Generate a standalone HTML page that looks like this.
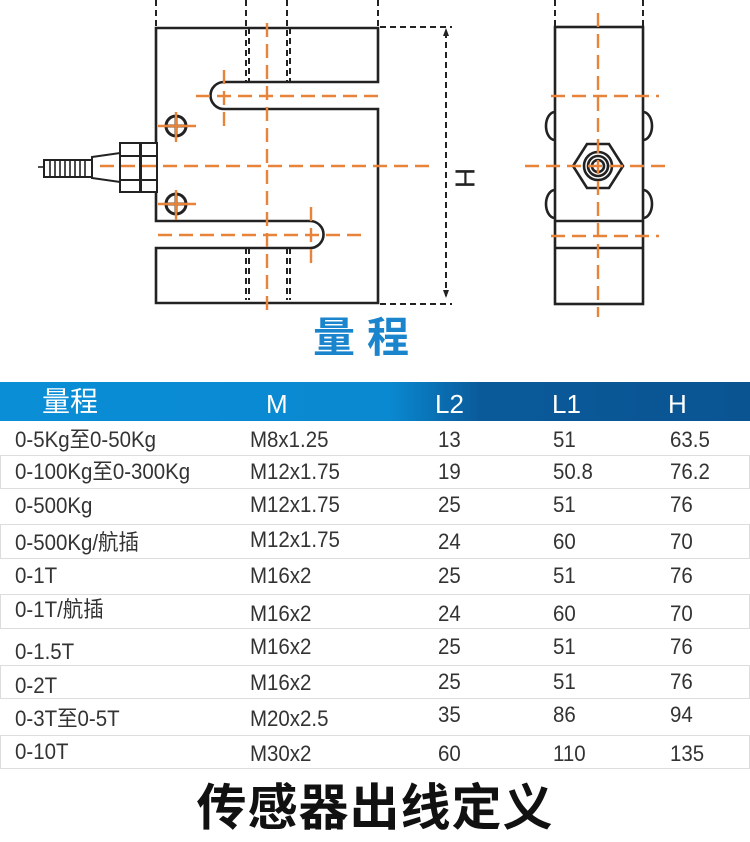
<!DOCTYPE html>
<html><head><meta charset="utf-8"><style>
body{margin:0;width:750px;height:842px;background:#fff;position:relative;overflow:hidden;font-family:"Liberation Sans","Noto Sans CJK SC",sans-serif;}
.t{position:absolute;font-size:22px;color:#333;line-height:22px;white-space:nowrap;transform:scaleX(0.93);transform-origin:0 50%;font-family:"Liberation Sans","Noto Sans CJK SC",sans-serif;}
.h{position:absolute;font-size:26px;color:#fff;line-height:28px;font-family:"Liberation Sans","Noto Sans CJK SC",sans-serif;}
.ln{position:absolute;left:0;width:750px;height:0;border-top:1.5px solid #ddd;}
.bx{position:absolute;left:0;width:748px;border:1.5px solid #ddd;}
</style></head><body>
<svg width="750" height="380" style="position:absolute;left:0;top:0" xmlns="http://www.w3.org/2000/svg">
<g fill="none" stroke="#222" stroke-width="2.6">
<path d="M156 28 H378 V82 H224 A13.5 13.5 0 0 0 224 109 H378 V303 H156 V248 H310 A13.5 13.5 0 0 0 310 221 H156 Z"/>
</g>
<g stroke="#222" stroke-width="2" stroke-dasharray="6,4" fill="none">
<line x1="156" y1="0" x2="156" y2="28"/><line x1="378" y1="0" x2="378" y2="28"/>
<line x1="246" y1="0" x2="246" y2="82"/><line x1="249" y1="28" x2="249" y2="82"/>
<line x1="287" y1="0" x2="287" y2="82"/><line x1="290" y1="28" x2="290" y2="82"/>
<line x1="246" y1="248" x2="246" y2="300"/><line x1="249" y1="248" x2="249" y2="300"/>
<line x1="287" y1="248" x2="287" y2="300"/><line x1="290" y1="248" x2="290" y2="300"/>
<line x1="380" y1="27" x2="452" y2="27"/><line x1="380" y1="304" x2="452" y2="304"/>
<line x1="446" y1="32" x2="446" y2="296"/>
<line x1="555" y1="0" x2="555" y2="27"/><line x1="643" y1="0" x2="643" y2="27"/>
</g>
<path d="M446 28 l-3 8 h6z M446 298 l-3 -8 h6z" fill="#222"/>
<text x="463" y="178" font-size="28" font-family="Liberation Sans" fill="#222" text-anchor="middle" dominant-baseline="middle" transform="rotate(90 463 178)">H</text>
<g stroke="#222" stroke-width="2" fill="#fff">
<rect x="120" y="143" width="20" height="49"/><rect x="141" y="143" width="16" height="49"/>
<line x1="120" y1="156" x2="140" y2="156"/><line x1="120" y1="180" x2="140" y2="180"/>
<line x1="141" y1="156" x2="157" y2="156"/><line x1="141" y1="180" x2="157" y2="180"/>
<path d="M92 157 L120 153 V182 L92 178 Z"/>
<rect x="44" y="160" width="48" height="17"/>
</g>
<g stroke="#222" stroke-width="1.6">
<line x1="50" y1="160" x2="50" y2="177"/><line x1="55" y1="160" x2="55" y2="177"/><line x1="60" y1="160" x2="60" y2="177"/><line x1="65" y1="160" x2="65" y2="177"/><line x1="70" y1="160" x2="70" y2="177"/><line x1="75" y1="160" x2="75" y2="177"/><line x1="80" y1="160" x2="80" y2="177"/><line x1="85" y1="160" x2="85" y2="177"/>
<line x1="38" y1="167" x2="44" y2="167"/>
</g>
<g stroke="#222" stroke-width="3" fill="none">
<circle cx="176" cy="126" r="10"/><circle cx="176" cy="204" r="10"/>
<path d="M166 126h20M176 116v20M166 204h20M176 194v20"/>
</g>
<g stroke="#222" stroke-width="2.6" fill="none">
<rect x="555" y="27" width="88" height="277"/>
<line x1="555" y1="221" x2="643" y2="221"/><line x1="555" y1="248" x2="643" y2="248"/>
<path d="M555 112 a9 14 0 0 0 0 28 M555 190 a9 14 0 0 0 0 28 M643 112 a9 14 0 0 1 0 28 M643 190 a9 14 0 0 1 0 28"/>
<path d="M587 144 H609 L623 166 L609 188 H587 L573 166 Z"/>
<circle cx="598" cy="166" r="14"/><circle cx="598" cy="166" r="10"/><circle cx="598" cy="166" r="6"/>
</g>
<g stroke="#e8843a" stroke-width="2.4" stroke-dasharray="14,7" fill="none">
<line x1="267" y1="23" x2="267" y2="312"/>
<line x1="196" y1="96" x2="378" y2="96"/>
<line x1="100" y1="166" x2="432" y2="166"/>
<line x1="158" y1="235" x2="366" y2="235"/>
<line x1="224" y1="70" x2="224" y2="127"/>
<line x1="311" y1="207" x2="311" y2="263"/>
<line x1="598" y1="13" x2="598" y2="317"/>
<line x1="551" y1="96" x2="659" y2="96"/>
<line x1="525" y1="166" x2="670" y2="166"/>
<line x1="551" y1="236" x2="659" y2="236"/>
</g>
<g stroke="#e8843a" stroke-width="2.4">
<line x1="158" y1="126" x2="196" y2="126"/><line x1="176" y1="112" x2="176" y2="142"/>
<line x1="158" y1="204" x2="196" y2="204"/><line x1="176" y1="190" x2="176" y2="220"/>
</g>
<text x="367" y="352" font-size="42" font-weight="bold" fill="#1a84cc" text-anchor="middle" letter-spacing="12" font-family="Noto Sans CJK SC,sans-serif">量程</text>
</svg>
<div style="position:absolute;left:0;top:382px;width:750px;height:39px;background:linear-gradient(90deg,#0a8ed6 0%,#0a88d0 52%,#0a5a9a 64%,#0a5492 100%);"></div>
<div class="h" style="left:42px;top:386px;font-size:28px;font-family:'Noto Sans CJK SC',sans-serif;">量程</div>
<div class="h" style="left:266px;top:390px;">M</div>
<div class="h" style="left:435px;top:390px;">L2</div>
<div class="h" style="left:552px;top:390px;">L1</div>
<div class="h" style="left:668px;top:390px;">H</div>
<div class="bx" style="top:455px;height:32px"></div>
<div class="bx" style="top:524px;height:33px"></div>
<div class="bx" style="top:594px;height:33px"></div>
<div class="bx" style="top:665px;height:32px"></div>
<div class="bx" style="top:735px;height:32px"></div>
<div class="t" style="left:15px;top:429px">0-5Kg至0-50Kg</div><div class="t" style="left:250px;top:429px">M8x1.25</div><div class="t" style="left:438px;top:429px">13</div><div class="t" style="left:553px;top:429px">51</div><div class="t" style="left:670px;top:429px">63.5</div>
<div class="t" style="left:15px;top:461px">0-100Kg至0-300Kg</div><div class="t" style="left:250px;top:461px">M12x1.75</div><div class="t" style="left:438px;top:461px">19</div><div class="t" style="left:553px;top:461px">50.8</div><div class="t" style="left:670px;top:461px">76.2</div>
<div class="t" style="left:15px;top:495px">0-500Kg</div><div class="t" style="left:250px;top:494px">M12x1.75</div><div class="t" style="left:438px;top:494px">25</div><div class="t" style="left:553px;top:494px">51</div><div class="t" style="left:670px;top:494px">76</div>
<div class="t" style="left:15px;top:532px">0-500Kg/航插</div><div class="t" style="left:250px;top:529px">M12x1.75</div><div class="t" style="left:438px;top:531px">24</div><div class="t" style="left:553px;top:531px">60</div><div class="t" style="left:670px;top:531px">70</div>
<div class="t" style="left:15px;top:565px">0-1T</div><div class="t" style="left:250px;top:565px">M16x2</div><div class="t" style="left:438px;top:565px">25</div><div class="t" style="left:553px;top:565px">51</div><div class="t" style="left:670px;top:565px">76</div>
<div class="t" style="left:15px;top:599px">0-1T/航插</div><div class="t" style="left:250px;top:603px">M16x2</div><div class="t" style="left:438px;top:603px">24</div><div class="t" style="left:553px;top:603px">60</div><div class="t" style="left:670px;top:603px">70</div>
<div class="t" style="left:15px;top:641px">0-1.5T</div><div class="t" style="left:250px;top:636px">M16x2</div><div class="t" style="left:438px;top:636px">25</div><div class="t" style="left:553px;top:636px">51</div><div class="t" style="left:670px;top:636px">76</div>
<div class="t" style="left:15px;top:675px">0-2T</div><div class="t" style="left:250px;top:672px">M16x2</div><div class="t" style="left:438px;top:671px">25</div><div class="t" style="left:553px;top:671px">51</div><div class="t" style="left:670px;top:671px">76</div>
<div class="t" style="left:15px;top:708px">0-3T至0-5T</div><div class="t" style="left:250px;top:708px">M20x2.5</div><div class="t" style="left:438px;top:704px">35</div><div class="t" style="left:553px;top:704px">86</div><div class="t" style="left:670px;top:704px">94</div>
<div class="t" style="left:15px;top:741px">0-10T</div><div class="t" style="left:250px;top:743px">M30x2</div><div class="t" style="left:438px;top:743px">60</div><div class="t" style="left:553px;top:743px">110</div><div class="t" style="left:670px;top:743px">135</div>
<div style="position:absolute;left:0;width:750px;top:771px;text-align:center;font-size:50px;font-weight:bold;color:#111;letter-spacing:1px;font-family:'Noto Sans CJK SC',sans-serif;line-height:66px;">传感器出线定义</div>
</body></html>
